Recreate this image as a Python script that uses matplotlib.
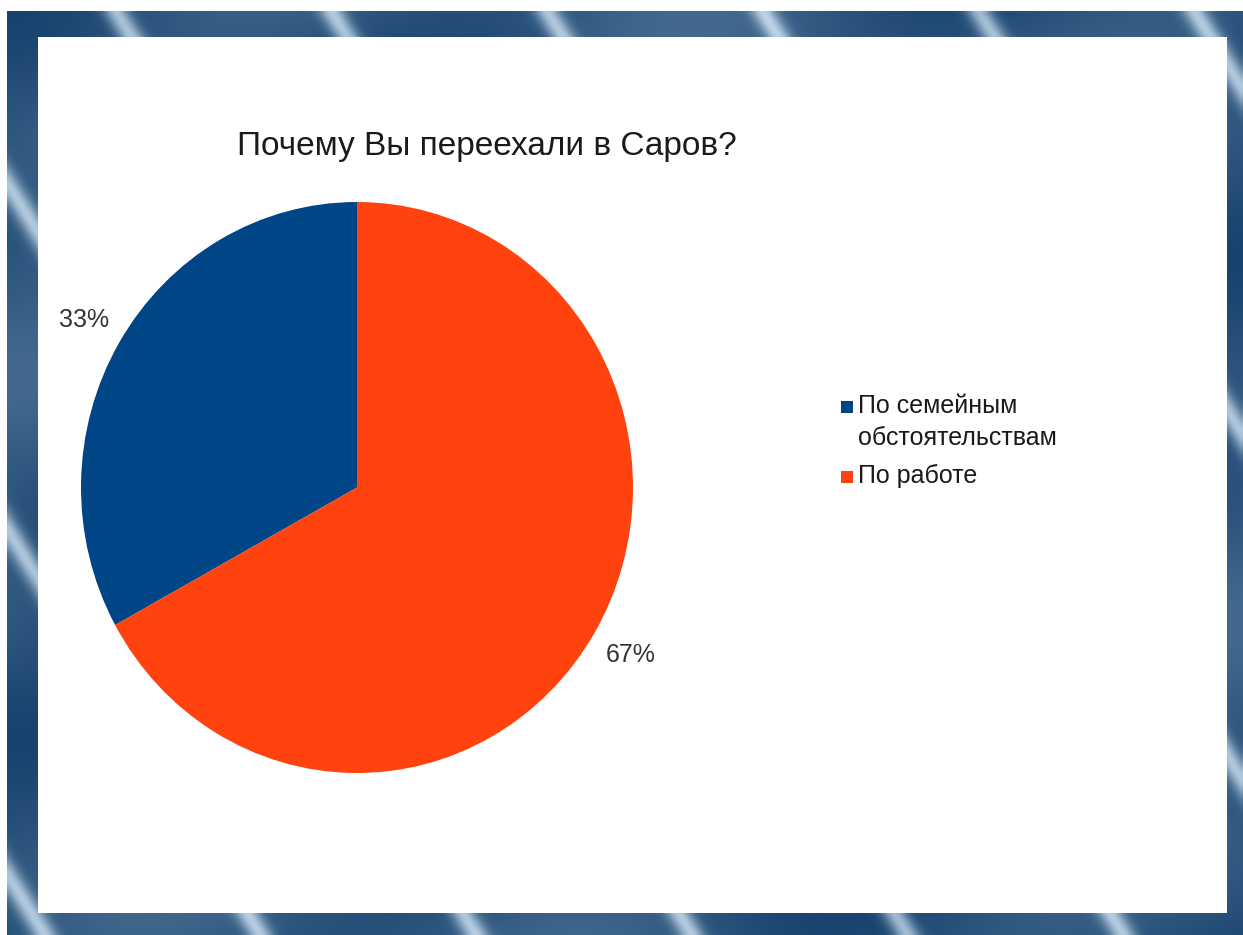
import numpy as np
import matplotlib.pyplot as plt
from matplotlib.patches import Rectangle

plt.rcParams['font.family'] = ['Liberation Sans', 'DejaVu Sans']

# данные опроса
title = 'Почему Вы переехали в Саров?'
categories = ['По семейным\nобстоятельствам', 'По работе']
shares = [33, 67]
colors = ['#004586', '#ff420e']

W, H = 1243, 935
fig = plt.figure(figsize=(W / 100, H / 100), dpi=100, facecolor='white')

# фон слайда: синяя рамка с полосами
bg = fig.add_axes([7 / W, 0, (W - 7) / W, (H - 11) / H])
bg.axis('off')
yy, xx = np.mgrid[0:300, 0:400]
base = 0.3 + 0.45 * np.sin(xx * 0.021 + yy * 0.013) ** 2 + 0.25 * np.sin(yy * 0.04 - xx * 0.008) ** 2
streak = np.sin(xx * 0.045 - yy * 0.028) ** 60 * 0.65
mix = np.clip(base * 0.3 + streak, 0, 1)
dark = np.array([0.02, 0.20, 0.38])
light = np.array([0.82, 0.90, 0.96])
img = dark + mix[..., None] * (light - dark)
bg.imshow(np.clip(img, 0, 1), aspect='auto', extent=[0, 1, 0, 1], interpolation='bicubic')
bg.set_xlim(0, 1)
bg.set_ylim(0, 1)

# белое поле слайда
fig.patches.append(Rectangle((38 / W, (H - 913) / H), (1227 - 38) / W, (913 - 37) / H,
                             transform=fig.transFigure, facecolor='white',
                             edgecolor='none', zorder=1))

fig.text(487 / W, 1 - 146 / H, title, ha='center', va='center', fontsize=24,
         color='#1a1a1a', zorder=3)

ax = fig.add_axes([(357 - 276) / W, (H - 487.5 - 285.5) / H, 552 / W, 571 / H])
wedges, texts = ax.pie(shares, colors=colors, startangle=90, counterclock=True,
                       labels=[f'{s}%' for s in shares], labeldistance=1.15,
                       wedgeprops=dict(linewidth=0),
                       textprops=dict(fontsize=18, color='#333333'))
for t in texts:
    t.set_ha('center')
    t.set_va('center')
ax.set_aspect('auto')
ax.set_xlim(-1, 1)
ax.set_ylim(-1, 1)
ax.set_zorder(2)

# легенда: квадрат на уровне первой строки подписи
base_y = 413
for cat, col in zip(categories, colors):
    fig.patches.append(Rectangle((841 / W, 1 - base_y / H), 12 / W, 12 / H,
                                 transform=fig.transFigure, facecolor=col,
                                 edgecolor='none', zorder=3))
    lines = cat.split('\n')
    for k, line in enumerate(lines):
        fig.text(858 / W, 1 - (base_y + 32 * k) / H, line, ha='left', va='baseline',
                 fontsize=18, color='#1a1a1a', zorder=3)
    base_y += 32 * (len(lines) - 1) + 38

fig.savefig('out.png', dpi=100, facecolor='white')
